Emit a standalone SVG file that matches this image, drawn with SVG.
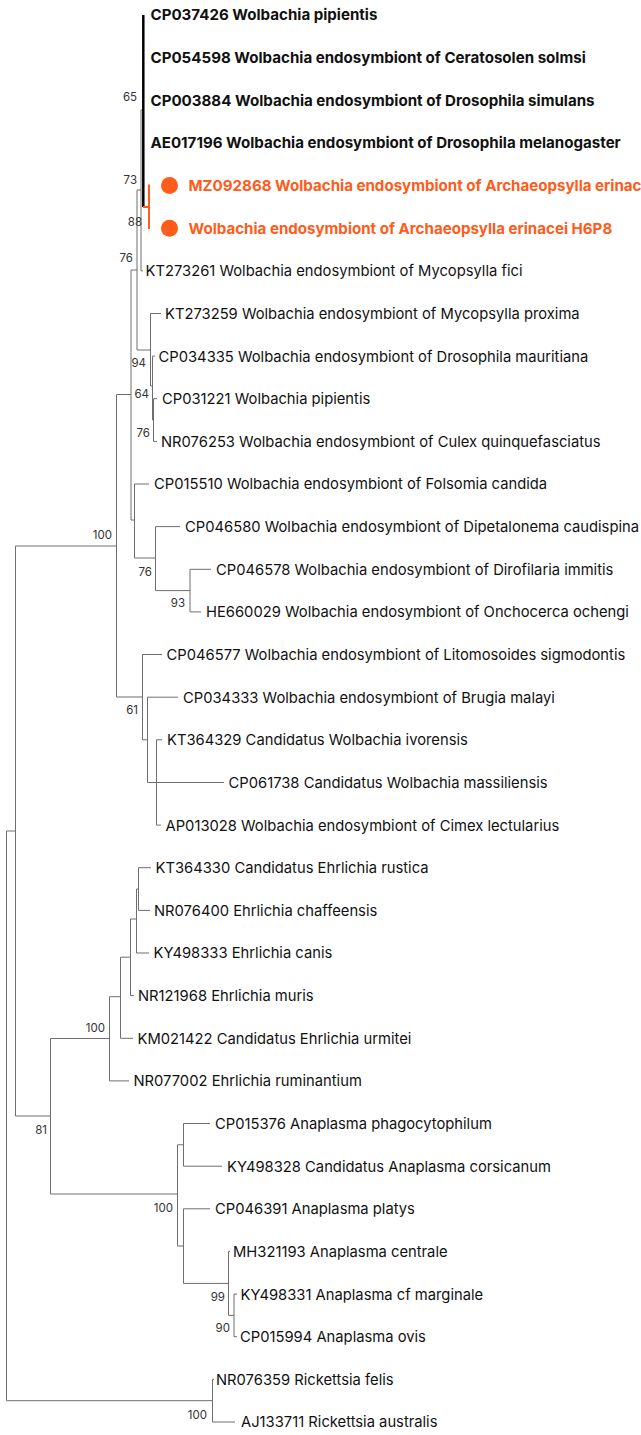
<svg xmlns="http://www.w3.org/2000/svg" width="641" height="1435" viewBox="0 0 641 1435">
<style>
.br{fill:none;stroke:#6e6e6e;stroke-width:1}
.hl{fill:none;stroke:#000;stroke-width:2.5}
.ob{fill:none;stroke:#ff5b1a;stroke-width:2}
.lf{font-family:Inter,"Liberation Sans",sans-serif;font-size:14.75px;fill:#111}
.b{font-weight:700;font-size:15.1px}
.o{fill:#ff5b1a;font-weight:700;font-size:15.1px}
.bs{font-family:Inter,"Liberation Sans",sans-serif;font-size:11.5px;fill:#333;text-anchor:end}
.dot{fill:#ff5b1a}
</style>
<rect width="641" height="1435" fill="#fff"/>
<g id="connectors">
<path class="br" d="M6.5 831 V1400.7 M6.5 831 H15.5 M15.5 546 V1116 M15.5 546 H116.5 M15.5 1116 H50.5 M6.5 1400.7 H212.5"/>
<path class="br" d="M212.5 1379.4 V1422 M212.5 1379.4 H214 M212.5 1422 H235"/>
<path class="br" d="M116.5 394.5 V697 M116.5 394.5 H131 M116.5 697 H142.5"/>
<path class="br" d="M131 270 V520 M131 270 H137 M131 520 H134.5"/>
<path class="br" d="M137 190 V350 M137 190 H141 M137 350 H150.5"/>
<path class="br" d="M141 110 V270.8 M141 270.8 H143 M141 110 H143"/>
<path class="hl" d="M143.3 15 V207"/>
<path class="ob" d="M143 207 H149 M149 184.5 V229"/>
<path class="br" d="M150.5 313.5 V386 M150.5 313.5 H161 M150.5 386 H152.5"/>
<path class="br" d="M152.5 356.1 V420 M152.5 356.1 H155 M152.5 420 H153.5"/>
<path class="br" d="M153.5 398.7 V441.4 M153.5 398.7 H157 M153.5 441.4 H157"/>
<path class="br" d="M134.5 484 V558 M134.5 484 H149 M134.5 558 H155.5"/>
<path class="br" d="M155.5 526.6 V590.6 M155.5 526.6 H180 M155.5 590.6 H190"/>
<path class="br" d="M190 569.3 V611.9 M190 569.3 H211 M190 611.9 H201"/>
<path class="br" d="M142.5 654.5 V739.8 M142.5 654.5 H162 M142.5 739.8 H147.5"/>
<path class="br" d="M147.5 697.2 V782.5 M147.5 697.2 H178 M147.5 782.5 H224"/>
<path class="br" d="M156.5 739.8 V825.1 M156.5 739.8 H162 M156.5 825.1 H161"/>
<path class="br" d="M50.5 1038.5 V1194 M50.5 1038.5 H109.5 M50.5 1194 H177.5"/>
<path class="br" d="M109.5 996.7 V1080.9 M109.5 996.7 H120.5 M109.5 1080.9 H129"/>
<path class="br" d="M120.5 957.2 V1038.3 M120.5 957.2 H130.5 M120.5 1038.3 H133"/>
<path class="br" d="M130.5 919 V995.6 M130.5 919 H136.5 M130.5 995.6 H134"/>
<path class="br" d="M136.5 889 V953 M136.5 889 H138.5 M136.5 953 H149"/>
<path class="br" d="M138.5 867.7 V910.4 M138.5 867.7 H151 M138.5 910.4 H150"/>
<path class="br" d="M177.5 1144.8 V1246 M177.5 1144.8 H183.5 M177.5 1246 H183.5"/>
<path class="br" d="M183.5 1123.5 V1166.2 M183.5 1123.5 H210 M183.5 1166.2 H222"/>
<path class="br" d="M183.5 1208.8 V1283.4 M183.5 1208.8 H210 M183.5 1283.4 H228.5"/>
<path class="br" d="M228.5 1251.4 V1315.4 M228.5 1251.4 H230 M228.5 1315.4 H234"/>
<path class="br" d="M234 1294.1 V1336.7 M234 1294.1 H237 M234 1336.7 H237"/>
</g>
<g id="bootstrap">
<text class="bs" x="137" y="101">65</text>
<text class="bs" x="137" y="184">73</text>
<text class="bs" x="142" y="226">88</text>
<text class="bs" x="133" y="262">76</text>
<text class="bs" x="146" y="367">94</text>
<text class="bs" x="149" y="398">64</text>
<text class="bs" x="150" y="437">76</text>
<text class="bs" x="112" y="539">100</text>
<text class="bs" x="152" y="576">76</text>
<text class="bs" x="185" y="607">93</text>
<text class="bs" x="138" y="714">61</text>
<text class="bs" x="105" y="1032">100</text>
<text class="bs" x="47" y="1134">81</text>
<text class="bs" x="173" y="1212">100</text>
<text class="bs" x="225" y="1301">99</text>
<text class="bs" x="230" y="1332">90</text>
<text class="bs" x="207" y="1419">100</text>
</g>
<g id="leaf1"><text class="lf b" x="150.5" y="20.4">CP037426 Wolbachia pipientis</text></g>
<g id="leaf2"><text class="lf b" x="150.5" y="63">CP054598 Wolbachia endosymbiont of Ceratosolen solmsi</text></g>
<g id="leaf3"><text class="lf b" x="150.5" y="105.7">CP003884 Wolbachia endosymbiont of Drosophila simulans</text></g>
<g id="leaf4"><text class="lf b" x="150.5" y="148.3">AE017196 Wolbachia endosymbiont of Drosophila melanogaster</text></g>
<g id="leaf5"><circle class="dot" cx="169.5" cy="185.5" r="8.5"/><text class="lf o" x="188.5" y="190.9">MZ092868 Wolbachia endosymbiont of Archaeopsylla erinacei</text></g>
<g id="leaf6"><circle class="dot" cx="169.5" cy="228.2" r="8.5"/><text class="lf o" x="188.5" y="233.6">Wolbachia endosymbiont of Archaeopsylla erinacei H6P8</text></g>
<g id="leaf7"><text class="lf" x="145.5" y="276.2">KT273261 Wolbachia endosymbiont of Mycopsylla fici</text></g>
<g id="leaf8"><text class="lf" x="165" y="318.9">KT273259 Wolbachia endosymbiont of Mycopsylla proxima</text></g>
<g id="leaf9"><text class="lf" x="158.5" y="361.5">CP034335 Wolbachia endosymbiont of Drosophila mauritiana</text></g>
<g id="leaf10"><text class="lf" x="162" y="404.1">CP031221 Wolbachia pipientis</text></g>
<g id="leaf11"><text class="lf" x="161" y="446.8">NR076253 Wolbachia endosymbiont of Culex quinquefasciatus</text></g>
<g id="leaf12"><text class="lf" x="154" y="489.4">CP015510 Wolbachia endosymbiont of Folsomia candida</text></g>
<g id="leaf13"><text class="lf" x="185" y="532">CP046580 Wolbachia endosymbiont of Dipetalonema caudispina</text></g>
<g id="leaf14"><text class="lf" x="216" y="574.7">CP046578 Wolbachia endosymbiont of Dirofilaria immitis</text></g>
<g id="leaf15"><text class="lf" x="206" y="617.3">HE660029 Wolbachia endosymbiont of Onchocerca ochengi</text></g>
<g id="leaf16"><text class="lf" x="166.5" y="659.9">CP046577 Wolbachia endosymbiont of Litomosoides sigmodontis</text></g>
<g id="leaf17"><text class="lf" x="183" y="702.6">CP034333 Wolbachia endosymbiont of Brugia malayi</text></g>
<g id="leaf18"><text class="lf" x="167" y="745.2">KT364329 Candidatus Wolbachia ivorensis</text></g>
<g id="leaf19"><text class="lf" x="228.5" y="787.9">CP061738 Candidatus Wolbachia massiliensis</text></g>
<g id="leaf20"><text class="lf" x="165.5" y="830.5">AP013028 Wolbachia endosymbiont of Cimex lectularius</text></g>
<g id="leaf21"><text class="lf" x="155.5" y="873.1">KT364330 Candidatus Ehrlichia rustica</text></g>
<g id="leaf22"><text class="lf" x="154" y="915.8">NR076400 Ehrlichia chaffeensis</text></g>
<g id="leaf23"><text class="lf" x="153.5" y="958.4">KY498333 Ehrlichia canis</text></g>
<g id="leaf24"><text class="lf" x="138" y="1001">NR121968 Ehrlichia muris</text></g>
<g id="leaf25"><text class="lf" x="137.5" y="1043.7">KM021422 Candidatus Ehrlichia urmitei</text></g>
<g id="leaf26"><text class="lf" x="133.5" y="1086.3">NR077002 Ehrlichia ruminantium</text></g>
<g id="leaf27"><text class="lf" x="215" y="1128.9">CP015376 Anaplasma phagocytophilum</text></g>
<g id="leaf28"><text class="lf" x="227" y="1171.6">KY498328 Candidatus Anaplasma corsicanum</text></g>
<g id="leaf29"><text class="lf" x="215" y="1214.2">CP046391 Anaplasma platys</text></g>
<g id="leaf30"><text class="lf" x="233" y="1256.8">MH321193 Anaplasma centrale</text></g>
<g id="leaf31"><text class="lf" x="240.5" y="1299.5">KY498331 Anaplasma cf marginale</text></g>
<g id="leaf32"><text class="lf" x="240" y="1342.1">CP015994 Anaplasma ovis</text></g>
<g id="leaf33"><text class="lf" x="216" y="1384.8">NR076359 Rickettsia felis</text></g>
<g id="leaf34"><text class="lf" x="241" y="1427.4">AJ133711 Rickettsia australis</text></g>
</svg>
